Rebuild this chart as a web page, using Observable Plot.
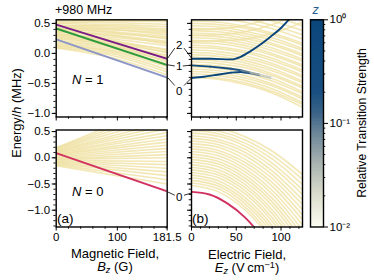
<!DOCTYPE html>
<html><head><meta charset="utf-8">
<script src="https://cdn.jsdelivr.net/npm/d3@7"></script>
<script src="https://cdn.jsdelivr.net/npm/@observablehq/plot@0.6"></script>
<style>
html,body{margin:0;padding:0;background:#fff;}
#c{position:relative;width:374px;height:280px;overflow:hidden;font-family:"Liberation Sans",Arial,sans-serif;color:#000;}
#c svg{position:absolute;}
.t{position:absolute;white-space:nowrap;line-height:1;}
</style></head><body><div id="c"></div>
<script>
// ---------------- data ----------------
const bCurved = [0, 90, 181.5];          // magnetic field samples (G)
const bEnds = [0, 181.5];
const eSamples = [0, 30, 60, 90, 124];   // electric field samples (V/cm)

// N = 1 Zeeman, background transitions (values at bCurved)
const n1ZeemanBg = [
 [0.09,-0.07,-0.36],[0.10,-0.03,-0.31],[0.12,0.00,-0.27],[0.13,0.03,-0.22],[0.15,0.05,-0.17],
 [0.17,0.08,-0.12],[0.19,0.11,-0.08],[0.21,0.13,-0.03],[0.24,0.16,0.02],[0.27,0.19,0.07],
 [0.29,0.16,-0.06],[0.31,0.24,0.13],[0.33,0.22,0.05],[0.35,0.30,0.20],[0.37,0.30,0.16],
 [0.39,0.36,0.28],[0.41,0.35,0.24],[0.42,0.42,0.36],[0.44,0.40,0.31],[0.46,0.48,0.44],
 [0.47,0.46,0.40],[0.49,0.54,0.53],[0.50,0.51,0.48],[0.52,0.60,0.64],[0.53,0.55,0.55],
 [0.55,0.66,0.74],[0.56,0.62,0.66],[0.60,0.70,0.80],
 [0.32,0.27,0.18],[0.36,0.33,0.26],[0.40,0.39,0.34],[0.45,0.44,0.38],[0.30,0.20,0.01],[0.26,0.13,-0.14]
];
// N = 1 Zeeman, highlighted transitions (values at bEnds)
const n1Purple = [0.48, -0.09];
const n1Green = [0.415, -0.195];
const n1Grey = [0.235, -0.405];

// N = 0 Zeeman, background (values at bEnds)
const n0ZeemanBg = [
 [0.19,1.05],[0.18,0.95],[0.17,0.86],[0.16,0.77],[0.14,0.69],[0.13,0.62],[0.12,0.55],[0.10,0.48],
 [0.09,0.42],[0.07,0.36],[0.06,0.30],[0.04,0.24],[0.02,0.18],[0.00,0.12],[-0.02,0.06],[-0.03,0.00],
 [-0.05,-0.07],[-0.07,-0.13],[-0.08,-0.20],[-0.10,-0.27],[-0.11,-0.34],[-0.13,-0.42],[-0.15,-0.50]
];
const n0Red = [0.09, -0.64];

// N = 1 Stark, background (values at eSamples)
const n1StarkBg = [
 [-0.40,-0.43,-0.52,-0.66,-0.90],[-0.38,-0.41,-0.49,-0.63,-0.85],[-0.34,-0.37,-0.45,-0.59,-0.82],
 [-0.30,-0.33,-0.41,-0.54,-0.76],[-0.26,-0.29,-0.37,-0.51,-0.73],[-0.22,-0.25,-0.32,-0.46,-0.67],
 [-0.18,-0.21,-0.29,-0.42,-0.64],[-0.14,-0.17,-0.24,-0.37,-0.58],[-0.10,-0.13,-0.20,-0.34,-0.55],
 [-0.06,-0.09,-0.16,-0.29,-0.49],[-0.02,-0.05,-0.12,-0.25,-0.46],[0.02,-0.01,-0.08,-0.20,-0.40],
 [0.06,0.03,-0.04,-0.17,-0.37],[0.10,0.08,0.01,-0.12,-0.31],[0.14,0.11,0.04,-0.08,-0.28],
 [0.18,0.16,0.09,-0.03,-0.22],[0.22,0.20,0.13,0.00,-0.19],[0.26,0.24,0.17,0.05,-0.13],
 [0.30,0.28,0.21,0.09,-0.10],[0.34,0.32,0.25,0.14,-0.04],[0.38,0.36,0.29,0.17,-0.01],
 [0.42,0.40,0.33,0.22,0.05],[0.46,0.44,0.37,0.26,0.08],[0.50,0.48,0.42,0.31,0.14],
 [0.54,0.52,0.45,0.34,0.17],[0.60,0.58,0.52,0.41,0.24],[0.66,0.64,0.58,0.47,0.31],
 [0.72,0.70,0.64,0.54,0.38],[0.80,0.78,0.72,0.62,0.46],[0.88,0.86,0.80,0.71,0.55],
 [0.20,0.21,0.24,0.33,0.52],[0.30,0.31,0.36,0.48,0.70],[0.40,0.41,0.47,0.60,0.85]
];
// N = 1 Stark, highlighted transitions with relative strength
const n1UpperE = [0, 21, 44, 55, 66, 77, 88, 100, 108, 116];
const n1UpperV = [-0.09, -0.09, -0.10, -0.056, 0.038, 0.149, 0.275, 0.424, 0.55, 0.68];
const n1UpperS = [1, 1, 1, 1, 1, 1, 1, 1, 1, 1];
const n1MidE = [0, 21, 44, 55, 66, 77, 90];
const n1MidV = [-0.20, -0.22, -0.255, -0.28, -0.32, -0.355, -0.40];
const n1MidS = [0.45, 0.3, 0.17, 0.09, 0.045, 0.022, 0.011];
const n1LowE = [0, 14, 29, 44, 55, 66, 77, 90];
const n1LowV = [-0.41, -0.39, -0.355, -0.32, -0.31, -0.33, -0.365, -0.41];
const n1LowS = [1, 1, 1, 0.7, 0.3, 0.11, 0.04, 0.013];

// N = 0 Stark, background (values at eSamples)
const n0StarkBg = [
 [-0.53,-0.65,-1.00,-1.58,-2.53],[-0.48,-0.59,-0.94,-1.51,-2.43],[-0.43,-0.54,-0.88,-1.43,-2.34],
 [-0.38,-0.49,-0.82,-1.36,-2.24],[-0.33,-0.44,-0.76,-1.29,-2.14],[-0.28,-0.38,-0.69,-1.21,-2.05],
 [-0.23,-0.33,-0.63,-1.14,-1.95],[-0.18,-0.28,-0.57,-1.06,-1.86],[-0.13,-0.23,-0.51,-0.99,-1.76],
 [-0.08,-0.17,-0.45,-0.91,-1.66],[-0.03,-0.12,-0.39,-0.84,-1.57],[0.02,-0.07,-0.33,-0.77,-1.47],
 [0.07,-0.02,-0.27,-0.69,-1.38],[0.12,0.04,-0.21,-0.62,-1.28],[0.17,0.09,-0.15,-0.54,-1.18],
 [0.22,0.14,-0.09,-0.47,-1.09],[0.27,0.20,-0.03,-0.39,-0.99],[0.32,0.25,0.04,-0.32,-0.89],
 [0.37,0.30,0.10,-0.25,-0.80],[0.42,0.35,0.16,-0.17,-0.70],[0.47,0.41,0.22,-0.10,-0.61],
 [0.52,0.46,0.28,-0.02,-0.51],[0.57,0.51,0.34,0.05,-0.41],[0.62,0.57,0.40,0.13,-0.32]
];
const n0RedE = [0, 20, 40, 60, 80];
const n0RedV = [-0.65, -0.70, -0.87, -1.14, -1.53];

// connectors between panels
const topConnLabels = ["2", "1", "0"];
const topConnLeft = [-0.09, -0.195, -0.405];
const topConnRight = [-0.09, -0.20, -0.41];
const topConnAttach = [0.083, -0.215, -0.541];
const topConnLabelY = [0.134, -0.219, -0.637];
const botConnLabels = ["0"];
const botConnLeft = [-0.64];
const botConnRight = [-0.66];
const botConnAttach = [-0.705];
const botConnLabelY = [-0.74];

// axes
const bMajor = [0, 100, 181.5];
const bMinor = [20, 40, 60, 80, 120, 140, 160, 180];
const eMajor = [0, 50, 100];
const eMinor = [10, 20, 30, 40, 60, 70, 80, 90, 110, 120];
const yMajor = [-1, -0.5, 0, 0.5];
const yMinor = [-1.3,-1.2,-1.1,-1.0,-0.9,-0.8,-0.7,-0.6,-0.5,-0.4,-0.3,-0.2,-0.1,0,0.1,0.2,0.3,0.4,0.5];
const cbMajor = [0.01, 0.1, 1];
const cbMajorLabels = ["10\u207B\u00B2", "10\u207B\u00B9", "10\u2070"];
const cbMinor = [0.02,0.03,0.04,0.05,0.06,0.07,0.08,0.09,0.2,0.3,0.4,0.5,0.6,0.7,0.8,0.9];

const yDomTop = [-1.06, 0.56];
const yDomBot = [-1.32, 0.53];

// ---------------- drawing ----------------
const FONT = '"Liberation Sans", Arial, sans-serif';
const C = document.getElementById("c");
const YELLOW = "#efe1a2";
const ramp = d3.scaleLinear()
  .domain([0, 0.15, 0.3, 0.45, 0.55, 0.65, 1])
  .range(["#fcfcf1", "#dcdecd", "#aab4b0", "#6c8698", "#3a6388", "#184f80", "#0b467b"])
  .interpolate(d3.interpolateRgb);
const colorOpts = {type: "log", domain: [0.01, 1], interpolate: t => ramp(t)};

const rowsFrom = (xs, list) => list.flatMap((vals, id) => vals.map((v, i) => ({id, x: xs[i], y: v})));
const curveRows = (xs, vs, ss, id) => xs.map((x, i) => ({id, x, y: vs[i], s: ss[i]}));
const styleStr = `background:transparent;overflow:visible;font-family:${FONT};font-size:11.5px;color:#000;`;

function place(el, left, top) { el.style.left = left + "px"; el.style.top = top + "px"; C.append(el); }

function panel({left, top, mL, mT, mB, mR, fw, fh, xDomain, yDomain, xMajor, xMinor, xLabels, yLabels, marks}) {
  const p = Plot.plot({
    width: mL + fw + mR, height: mT + fh + mB,
    marginLeft: mL, marginRight: mR, marginTop: mT, marginBottom: mB,
    style: styleStr,
    x: {domain: xDomain, ticks: xMajor, tickSize: 4, tickPadding: 2, label: null,
        tickFormat: xLabels ? (d => String(d)) : (() => "")},
    y: {domain: yDomain, ticks: yMajor, tickSize: 4, tickPadding: 2, label: null,
        tickFormat: yLabels ? d3.format(".1f") : (() => "")},
    color: colorOpts,
    marks: [
      ...marks,
      Plot.ruleX(xMinor, {x: d => d, y1: yDomain[0], y2: yDomain[0], insetBottom: -2.3, stroke: "#000", strokeWidth: 0.9}),
      Plot.ruleY(yMinor.filter(v => v > yDomain[0] && v < yDomain[1]), {y: d => d, x1: xDomain[0], x2: xDomain[0], insetLeft: -2.3, stroke: "#000", strokeWidth: 0.9}),
      Plot.frame({stroke: "#000", strokeWidth: 1.4})
    ]
  });
  place(p, left, top);
}

const bgLine = (rows) => Plot.line(rows, {x: "x", y: "y", z: "id", stroke: YELLOW, strokeOpacity: 0.8, strokeWidth: 1.6, curve: "monotone-x", clip: true});
const hiLine = (xs, vs, color) => Plot.line(xs.map((x, i) => ({x, y: vs[i]})), {x: "x", y: "y", stroke: color, strokeWidth: 1.9, clip: true, curve: "monotone-x"});
const strengthLine = (rows) => Plot.line(rows, {x: "x", y: "y", z: "id", stroke: "s", strokeWidth: 1.9, curve: "monotone-x", clip: true});

// top-left: N=1 Zeeman
panel({left: 0, top: 0, mL: 55.7, mT: 19.3, mB: 11.5, mR: 4, fw: 111, fh: 97.2,
  xDomain: [0, 181.5], yDomain: yDomTop, xMajor: bMajor, xMinor: bMinor, xLabels: false, yLabels: true,
  marks: [bgLine(rowsFrom(bCurved, n1ZeemanBg)), hiLine(bEnds, n1Grey, "#8c95c7"), hiLine(bEnds, n1Green, "#2f9b3d"), hiLine(bEnds, n1Purple, "#7a1d86")]});
// bottom-left: N=0 Zeeman
panel({left: 0, top: 120, mL: 55.7, mT: 9.5, mB: 24, mR: 4, fw: 111, fh: 97,
  xDomain: [0, 181.5], yDomain: yDomBot, xMajor: bMajor, xMinor: bMinor, xLabels: true, yLabels: true,
  marks: [bgLine(rowsFrom(bEnds, n0ZeemanBg)), hiLine(bEnds, n0Red, "#d1325f")]});
// top-right: N=1 Stark
panel({left: 170, top: 0, mL: 21, mT: 19.3, mB: 11.5, mR: 4, fw: 111, fh: 97.2,
  xDomain: [0, 124], yDomain: yDomTop, xMajor: eMajor, xMinor: eMinor, xLabels: false, yLabels: false,
  marks: [bgLine(rowsFrom(eSamples, n1StarkBg)),
    strengthLine([...curveRows(n1LowE, n1LowV, n1LowS, 0), ...curveRows(n1MidE, n1MidV, n1MidS, 1), ...curveRows(n1UpperE, n1UpperV, n1UpperS, 2)])]});
// bottom-right: N=0 Stark
panel({left: 170, top: 120, mL: 21, mT: 9.5, mB: 24, mR: 4, fw: 111, fh: 97,
  xDomain: [0, 124], yDomain: yDomBot, xMajor: eMajor, xMinor: eMinor, xLabels: true, yLabels: false,
  marks: [bgLine(rowsFrom(eSamples, n0StarkBg)), hiLine(n0RedE, n0RedV, "#d1325f")]});

// connectors
function connectors({top, h, yDomain, labels, lv, rv, att, ly}) {
  const idx = labels.map((_, i) => i);
  const g = Plot.plot({
    width: 24.3, height: h, margin: 0, style: styleStr + "font-size:11.5px;",
    x: {domain: [0, 1], axis: null}, y: {domain: yDomain, axis: null},
    marks: [
      Plot.link(idx, {x1: 0, y1: i => lv[i], x2: 0.3, y2: i => att[i], stroke: "#000", strokeWidth: 0.8}),
      Plot.link(idx, {x1: i => labels[i] === "1" ? 0.63 : 0.68, y1: i => att[i], x2: 1, y2: i => rv[i], stroke: "#000", strokeWidth: 0.8}),
      Plot.text(idx, {x: 0.48, y: i => ly[i], text: i => labels[i], fill: "#000"})
    ]
  });
  place(g, 166.7, top);
}
connectors({top: 19.3, h: 97.2, yDomain: yDomTop, labels: topConnLabels, lv: topConnLeft, rv: topConnRight, att: topConnAttach, ly: topConnLabelY});
connectors({top: 129.5, h: 97, yDomain: yDomBot, labels: botConnLabels, lv: botConnLeft, rv: botConnRight, att: botConnAttach, ly: botConnLabelY});

// colorbar
const cbSteps = d3.range(0, 120).map(i => [10 ** (-2 + i / 60), 10 ** (-2 + (i + 1) / 60)]);
const cb = Plot.plot({
  width: 74, height: 280, marginLeft: 10, marginRight: 51, marginTop: 19.3, marginBottom: 53.5,
  style: styleStr,
  x: {domain: [0, 1], axis: null},
  y: {type: "log", domain: [0.01, 1], axis: "right", ticks: cbMajor, tickSize: 4, tickPadding: 2, label: null,
      tickFormat: d => cbMajorLabels[cbMajor.indexOf(d)]},
  color: colorOpts,
  marks: [
    Plot.rect(cbSteps, {x1: 0, x2: 1, y1: d => d[0], y2: d => d[1], fill: d => Math.sqrt(d[0] * d[1]), inset: 0, shapeRendering: "crispEdges"}),
    Plot.ruleY(cbMinor, {y: d => d, x1: 1, x2: 1, insetRight: -2.3, stroke: "#000", strokeWidth: 0.9}),
    Plot.frame({stroke: "#000", strokeWidth: 1.4})
  ]
});
place(cb, 300, 0);

// texts
function text(html, left, top, size, extra = "") {
  const d = document.createElement("div");
  d.className = "t"; d.innerHTML = html;
  d.style.cssText += `left:${left}px;top:${top}px;font-size:${size}px;${extra}`;
  C.append(d);
}
text("+980 MHz", 55, 4, 12.5);
text("<i>N</i> = 1", 72, 72.5, 13);
text("<i>N</i> = 0", 72, 185.3, 13);
text("(a)", 57, 211.5, 13.5);
text("(b)", 192, 211.5, 13.5);
text("Magnetic Field,", 115, 246.5, 13, "transform:translateX(-50%);");
text("<i>B<sub style='font-size:70%;vertical-align:-0.25em'>z</sub></i> (G)", 115, 260, 13, "transform:translateX(-50%);");
text("Electric Field,", 247, 247.5, 13, "transform:translateX(-50%);");
text("<i>E<sub style='font-size:70%;vertical-align:-0.25em'>z</sub></i> (V\u2009cm<sup style='font-size:70%;vertical-align:0.45em'>\u22121</sup>)", 247, 261, 13, "transform:translateX(-50%);");
text("Energy/<i>h</i> (MHz)", 17, 113, 12.8, "transform:translate(-50%,-50%) rotate(-90deg);");
text("Relative Transition Strength", 362, 123, 12.2, "transform:translate(-50%,-50%) rotate(-90deg);");
text("<i>z</i>", 312.5, 3.5, 12.5, "color:#2a5d8f;");
</script></body></html>
